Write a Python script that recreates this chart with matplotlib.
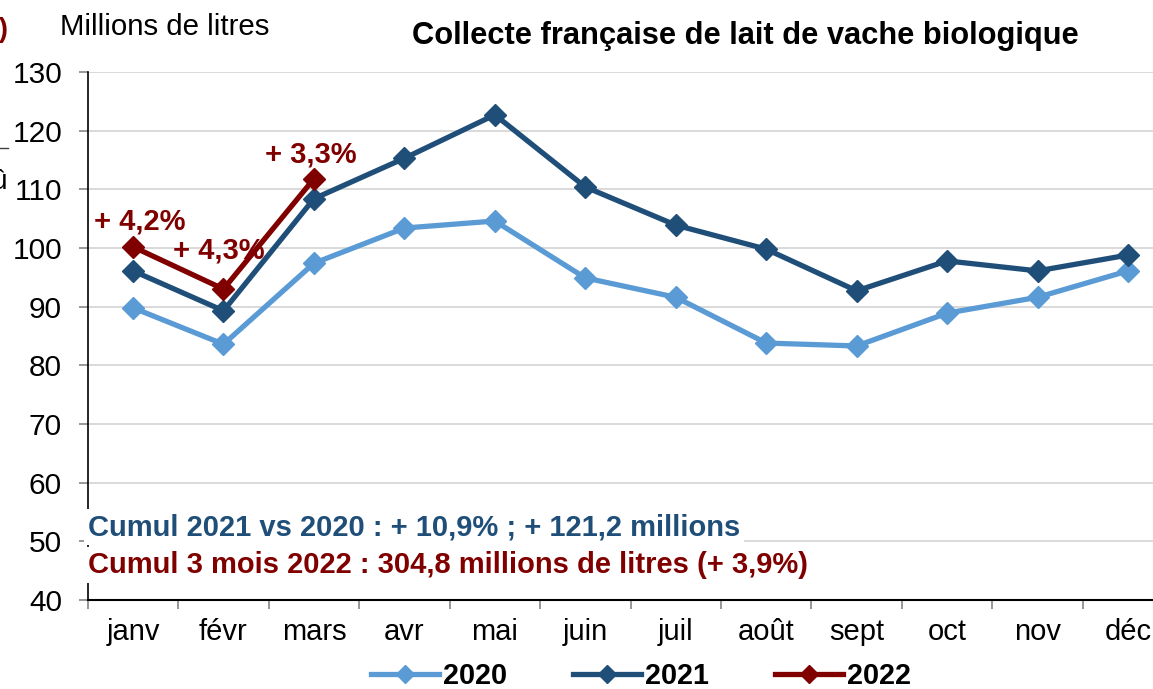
import matplotlib
matplotlib.use("Agg")
import matplotlib.pyplot as plt
from matplotlib.lines import Line2D
import numpy as np

plt.rcParams['font.family'] = ['Liberation Sans', 'DejaVu Sans']

months = ["janv", "févr", "mars", "avr", "mai", "juin", "juil", "août", "sept", "oct", "nov", "déc"]
v2020 = [89.8, 83.6, 97.4, 103.4, 104.6, 94.9, 91.6, 83.8, 83.3, 88.9, 91.6, 96.1]
v2021 = [96.1, 89.3, 108.4, 115.3, 122.7, 110.4, 103.9, 99.8, 92.7, 97.8, 96.1, 98.8]
v2022 = [100.2, 93.0, 111.8]
labels_2022 = ["+ 4,2%", "+ 4,3%", "+ 3,3%"]
series_names = ["2020", "2021", "2022"]
colors = ["#5B9BD5", "#1F4E79", "#800000"]

W, H = 1153, 689
fig = plt.figure(figsize=(W / 100, H / 100), dpi=100)

def fx(x):
    return x / W

def fy(y):
    return 1 - y / H

left_px, right_px, top_px, bot_px = 87.8, 1173.3, 72, 600
ax = fig.add_axes([fx(left_px), fy(bot_px), fx(right_px - left_px), (bot_px - top_px) / H])

x = np.arange(len(months))
for vals, c, name in zip([v2020, v2021, v2022], colors, series_names):
    ax.plot(x[:len(vals)], vals, color=c, lw=3.8, marker='D', ms=11,
            solid_joinstyle='miter', label=name, zorder=3)

ax.set_xlim(-0.5, len(months) - 0.5)
ax.set_ylim(40, 130)
ax.set_yticks(np.arange(40, 131, 10))
ax.yaxis.grid(True, color="#D9D9D9", lw=1.4)
ax.set_axisbelow(True)
ax.set_xticks(x)
ax.set_xticklabels(months)
ax.set_xticks(np.arange(-0.5, len(months) + 0.5, 1), minor=True)
ax.tick_params(axis='x', which='major', length=0, pad=13, labelsize=21)
ax.tick_params(axis='x', which='minor', length=6.5, color="#868686", width=1.2, direction='out')
ax.tick_params(axis='y', length=6.5, color="#868686", width=1.2, pad=12, labelsize=21.5)
for s in ['top', 'right']:
    ax.spines[s].set_visible(False)
ax.spines['left'].set_color('black')
ax.spines['bottom'].set_color('black')
ax.spines['left'].set_linewidth(1.2)
ax.spines['bottom'].set_linewidth(1.5)

# annotations for 2022
offsets = [(7, -25), (-5, -39), (-3, -24)]
for i, (val, lab) in enumerate(zip(v2022, labels_2022)):
    dx, dy = offsets[i]
    ax.annotate(lab, (x[i], val), xytext=(dx * 0.72, -dy * 0.72), textcoords='offset points',
                ha='center', va='center', fontsize=21, fontweight='bold', color=colors[2], zorder=5)

# titles
fig.text(fx(745), fy(36), "Collecte française de lait de vache biologique", ha='center', va='center',
         fontsize=22.2, fontweight='bold', color='black')
fig.text(fx(60), fy(27), "Millions de litres", ha='left', va='center', fontsize=21.2, color='black')

# cumul texts
fig.text(fx(88), fy(527), "Cumul 2021 vs 2020 : + 10,9% ; + 121,2 millions", ha='left', va='center',
         fontsize=21, fontweight='bold', color=colors[1],
         bbox=dict(facecolor='white', edgecolor='none', pad=3))
fig.text(fx(88), fy(565), "Cumul 3 mois 2022 : 304,8 millions de litres (+ 3,9%)", ha='left', va='center',
         fontsize=21, fontweight='bold', color=colors[2],
         bbox=dict(facecolor='white', edgecolor='none', pad=3))

# clipped fragments at the left edge
fig.text(fx(8), fy(30), "%)", ha='right', va='center', fontsize=20, fontweight='bold', color=colors[2])
fig.add_artist(Line2D([0, fx(8)], [fy(148), fy(148)], color='#404040', lw=1))
fig.text(fx(7), fy(182), "û", ha='right', va='center', fontsize=20, color='black')

# legend
handles, labs = ax.get_legend_handles_labels()
leg = fig.legend(handles, labs, loc='center', bbox_to_anchor=(fx(641), fy(676)), ncol=3,
                 frameon=False, handlelength=2.35, handletextpad=0.15, columnspacing=2.3,
                 prop={'weight': 'bold', 'size': 20.7}, markerscale=0.85, borderpad=0)

fig.savefig("out.png", dpi=100)
